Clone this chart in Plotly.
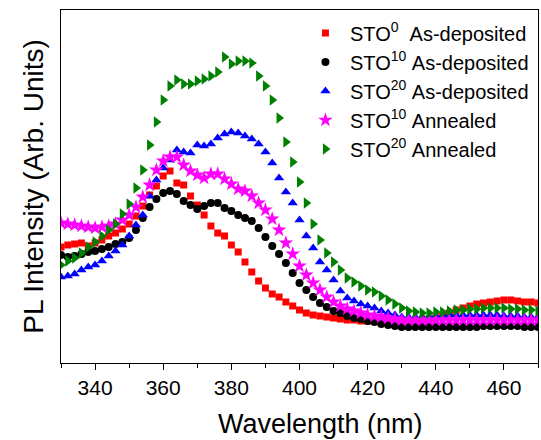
import plotly.graph_objects as go

# Wavelength grid (nm)
wavelength = list(range(330, 471, 2))

# PL intensity (arb. units) for each sample
sto0_as_dep = [116, 118, 119, 120, 117, 120, 123, 127, 130, 134, 139, 147, 157, 168, 177, 187,
               192, 180, 178, 167, 158, 148, 137, 130, 127, 118, 111, 101, 91, 82, 75, 69, 66,
               61, 57, 53, 50, 48, 47, 46, 45, 44, 43, 43, 42, 42, 42, 41, 41, 41, 42, 42, 42,
               43, 44, 45, 47, 50, 53, 55, 57, 59, 60, 61, 62, 63, 63, 62, 61, 61, 60]
sto10_as_dep = [108, 106, 107, 109, 111, 112, 114, 116, 119, 121, 125, 133, 145, 156, 164, 170,
                172, 169, 162, 158, 154, 157, 160, 160, 155, 152, 148, 145, 142, 135, 126, 117,
                109, 100, 90, 80, 73, 66, 60, 56, 52, 50, 47, 45, 44, 42, 41, 39, 38, 37, 36, 36,
                36, 36, 36, 36, 36, 36, 36, 36, 36, 36, 37, 37, 37, 37, 37, 37, 36, 36, 36]
sto20_as_dep = [86, 87, 89, 93, 96, 98, 102, 107, 112, 118, 127, 138, 148, 167, 183, 195, 203,
                213, 211, 210, 218, 217, 219, 225, 229, 231, 230, 227, 224, 219, 211, 200, 185,
                171, 160, 143, 127, 115, 101, 93, 83, 72, 65, 62, 59, 57, 55, 52, 50, 48, 46, 46,
                46, 46, 46, 47, 47, 48, 48, 48, 48, 48, 48, 48, 48, 47, 47, 47, 46, 46, 46]
sto10_annealed = [140, 139, 138, 137, 136, 135, 136, 137, 139, 143, 148, 156, 166, 178, 193, 202,
                  206, 206, 198, 192, 188, 185, 189, 189, 184, 179, 174, 172, 167, 160, 153, 144,
                  133, 120, 109, 97, 88, 80, 73, 66, 61, 57, 54, 52, 50, 48, 47, 46, 45, 44, 43,
                  43, 43, 43, 43, 43, 43, 43, 43, 43, 43, 43, 43, 43, 43, 43, 43, 43, 43, 43, 43]
sto20_annealed = [98, 102, 105, 110, 116, 121, 127, 133, 139, 149, 159, 175, 193, 218, 241, 263,
                  277, 283, 279, 279, 282, 284, 287, 291, 306, 299, 302, 302, 300, 287, 277, 263,
                  245, 221, 201, 181, 160, 139, 123, 110, 101, 93, 85, 81, 77, 73, 71, 67, 63, 59,
                  55, 52, 51, 50, 50, 51, 51, 52, 53, 53, 54, 54, 55, 55, 55, 55, 54, 54, 53, 53, 52]

series_names = [
    "STO<sup>0</sup>\u00a0\u00a0As-deposited",
    "STO<sup>10</sup>\u00a0As-deposited",
    "STO<sup>20</sup>\u00a0As-deposited",
    "STO<sup>10</sup>\u00a0Annealed",
    "STO<sup>20</sup>\u00a0Annealed",
]
series_values = [sto0_as_dep, sto10_as_dep, sto20_as_dep, sto10_annealed, sto20_annealed]
colors = ["#ff0000", "#000000", "#0000ff", "#ff00ff", "#008000"]
symbols = ["square", "circle", "triangle-up", "star", "triangle-right"]
sizes = [7, 8, 9, 11, 10]

fig = go.Figure()
for name, vals, c, s, sz in zip(series_names, series_values, colors, symbols, sizes):
    fig.add_trace(go.Scatter(
        x=wavelength, y=vals, name=name, mode="markers",
        marker=dict(color=c, symbol=s, size=sz, line=dict(width=0)),
    ))

font_family = "Liberation Sans, Arial, sans-serif"
fig.update_layout(
    width=541, height=440,
    margin=dict(l=61, r=3, t=10, b=77),
    paper_bgcolor="white", plot_bgcolor="white",
    font=dict(family=font_family, color="black"),
    showlegend=True,
    legend=dict(
        x=0.503, y=0.99, xanchor="left", yanchor="top",
        bgcolor="rgba(0,0,0,0)", borderwidth=0,
        font=dict(size=20, family=font_family),
        itemwidth=39, itemsizing="trace",
    ),
    xaxis=dict(
        range=[330, 470], tickmode="linear", tick0=340, dtick=20,
        ticks="outside", ticklen=6, tickwidth=1.3, tickcolor="black",
        minor=dict(ticks="outside", ticklen=4, tickwidth=1.3, tickcolor="black",
                   tick0=330, dtick=10),
        showline=True, linecolor="black", linewidth=1.3, mirror=True,
        showgrid=False, zeroline=False,
        tickfont=dict(size=21, family=font_family),
    ),
    yaxis=dict(
        range=[0, 353], showticklabels=False, ticks="",
        showline=True, linecolor="black", linewidth=1.3, mirror=True,
        showgrid=False, zeroline=False,
        title=dict(text="PL Intensity (Arb. Units)", font=dict(size=28, family=font_family),
                   standoff=8),
    ),
    annotations=[dict(
        text="Wavelength (nm)", xref="paper", yref="paper",
        x=0.545, y=-0.172, xanchor="center", yanchor="middle",
        showarrow=False, font=dict(size=27, family=font_family),
    )],
)

fig.write_html("out.html")
